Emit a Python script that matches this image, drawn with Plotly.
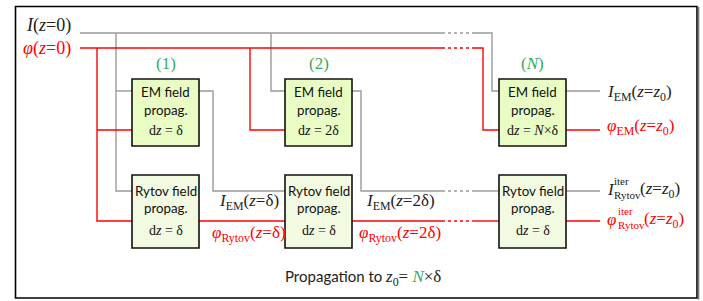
import plotly.graph_objects as go

# ---- data ----
stage_labels = ["(1)", "(2)", "(<i>N</i>)"]
em_steps = ["d<i>z</i> = δ", "d<i>z</i> = 2δ", "d<i>z</i> = <i>N</i>×δ"]
rytov_steps = ["d<i>z</i> = δ", "d<i>z</i> = δ", "d<i>z</i> = δ"]
box_x = [132, 285, 499]
box_w = 67
mid_I_labels = ["<i>I</i><sub>EM</sub>(<i>z</i>=δ)", "<i>I</i><sub>EM</sub>(<i>z</i>=2δ)"]
mid_phi_labels = ["<i>φ</i><sub>Rytov</sub>(<i>z</i>=δ)", "<i>φ</i><sub>Rytov</sub>(<i>z</i>=2δ)"]
mid_label_x = [249, 400]

GRAY = "#9a9a9a"
RED = "#ff0000"
GREEN = "#3aaa5c"
SERIF = "Liberation Serif"
SANS = "Lato"

EM_Y = (79, 146)
RY_Y = (175, 248)

fig = go.Figure()
shapes = []
ann = []

def poly(pts, color, dash="solid", w=1.4):
    d = "M " + " L ".join(f"{x},{y}" for x, y in pts)
    shapes.append(dict(type="path", path=d, line=dict(color=color, width=w, dash=dash),
                       xref="x", yref="y", layer="below"))

# outer frame
shapes.append(dict(type="rect", x0=15.5, y0=6.5, x1=697, y1=298, line=dict(color="#000", width=1.6),
                   xref="x", yref="y", layer="below"))
shapes.append(dict(type="line", x0=698.5, y0=7, x1=698.5, y1=299.5, line=dict(color="#777", width=1.6),
                   xref="x", yref="y", layer="below"))

# gray (intensity) lines
poly([(80, 33), (442, 33)], GRAY)
poly([(442, 33), (474, 33)], GRAY, "dot")
poly([(474, 33), (492, 33), (492, 91), (499, 91)], GRAY)
poly([(116, 33), (116, 191), (132, 191)], GRAY)
poly([(116, 91), (132, 91)], GRAY)
poly([(271, 33), (271, 91), (285, 91)], GRAY)
poly([(199, 91), (213, 91), (213, 191), (285, 191)], GRAY)
poly([(352, 91), (361, 91), (361, 191), (442, 191)], GRAY)
poly([(442, 191), (472, 191)], GRAY, "dot")
poly([(472, 191), (499, 191)], GRAY)
poly([(566, 91), (600, 91)], GRAY)
poly([(566, 191), (600, 191)], GRAY)

# red (phase) lines
poly([(80, 48), (442, 48)], RED)
poly([(442, 48), (474, 48)], RED, "dot")
poly([(474, 48), (483, 48), (483, 130), (499, 130)], RED)
poly([(97, 48), (97, 221), (132, 221)], RED)
poly([(97, 130), (132, 130)], RED)
poly([(250, 48), (250, 130), (285, 130)], RED)
poly([(199, 221), (285, 221)], RED)
poly([(352, 221), (442, 221)], RED)
poly([(442, 221), (472, 221)], RED, "dot")
poly([(472, 221), (499, 221)], RED)
poly([(566, 130), (600, 130)], RED)
poly([(566, 221), (600, 221)], RED)

# boxes
BOX_FS = 13.3
for i, x0 in enumerate(box_x):
    shapes.append(dict(type="rect", x0=x0, x1=x0 + box_w, y0=EM_Y[0], y1=EM_Y[1],
                       fillcolor="#e8fcc4", line=dict(color="#111", width=1.6),
                       xref="x", yref="y", layer="above"))
    shapes.append(dict(type="rect", x0=x0, x1=x0 + box_w, y0=RY_Y[0], y1=RY_Y[1],
                       fillcolor="#f3fae2", line=dict(color="#111", width=1.6),
                       xref="x", yref="y", layer="above"))
    cx = x0 + box_w / 2
    ann.append(dict(x=cx, y=92, text="EM field", font=dict(family=SANS, size=BOX_FS, color="#111")))
    ann.append(dict(x=cx, y=110, text="propag.", font=dict(family=SANS, size=BOX_FS, color="#111")))
    ann.append(dict(x=cx, y=130, text=em_steps[i], font=dict(family=SERIF, size=14, color="#111")))
    ann.append(dict(x=cx + 0.5, y=191, text="Rytov field", font=dict(family=SANS, size=BOX_FS, color="#111")))
    ann.append(dict(x=cx, y=208, text="propag.", font=dict(family=SANS, size=BOX_FS, color="#111")))
    ann.append(dict(x=cx, y=230, text=rytov_steps[i], font=dict(family=SERIF, size=14, color="#111")))
    ann.append(dict(x=cx, y=63, text=stage_labels[i], font=dict(family=SERIF, size=17, color=GREEN)))

# inputs
ann.append(dict(x=73, y=25, xanchor="right", text="<i>I</i>(<i>z</i>=0)",
                font=dict(family=SERIF, size=18, color="#222")))
ann.append(dict(x=73, y=48, xanchor="right", text="<i>φ</i>(<i>z</i>=0)",
                font=dict(family=SERIF, size=18, color=RED)))

# intermediate labels
for i in range(2):
    ann.append(dict(x=mid_label_x[i], y=202, text=mid_I_labels[i],
                    font=dict(family=SERIF, size=17, color="#222")))
    ann.append(dict(x=mid_label_x[i], y=234, text=mid_phi_labels[i],
                    font=dict(family=SERIF, size=17, color=RED)))

# outputs
ann.append(dict(x=605, y=93, xanchor="left", text="<i>I</i><sub>EM</sub>(<i>z</i>=<i>z</i><sub>0</sub>)",
                font=dict(family=SERIF, size=17, color="#222")))
ann.append(dict(x=605, y=127, xanchor="left", text="<i>φ</i><sub>EM</sub>(<i>z</i>=<i>z</i><sub>0</sub>)",
                font=dict(family=SERIF, size=17, color=RED)))
for yc, col, sym, sx in [(189, "#222", "<i>I</i>", 612), (219, RED, "<i>φ</i>", 616)]:
    ann.append(dict(x=605, y=yc, xanchor="left", text=sym, font=dict(family=SERIF, size=17, color=col)))
    ann.append(dict(x=sx, y=yc - 8, xanchor="left", text="iter", font=dict(family=SERIF, size=11, color=col)))
    ann.append(dict(x=sx, y=yc + 6, xanchor="left", text="Rytov", font=dict(family=SERIF, size=11, color=col)))
    ann.append(dict(x=sx + 26, y=yc + 1, xanchor="left", text="(<i>z</i>=<i>z</i><sub>0</sub>)",
                    font=dict(family=SERIF, size=17, color=col)))

# caption
ann.append(dict(x=384, y=276, xanchor="right", text="Propagation to",
                font=dict(family=SANS, size=15, color="#222")))
ann.append(dict(x=383, y=278, xanchor="left",
                text="<i>z</i><sub>0</sub>= <span style='color:" + GREEN + "'><i>N</i></span>×δ",
                font=dict(family=SERIF, size=17, color="#222")))

for a in ann:
    a.setdefault("xanchor", "center")
    a.setdefault("yanchor", "middle")
    a.update(xref="x", yref="y", showarrow=False)

fig.update_layout(
    width=703, height=301, margin=dict(l=0, r=0, t=0, b=0),
    paper_bgcolor="white", plot_bgcolor="white",
    xaxis=dict(range=[0, 703], visible=False, fixedrange=True),
    yaxis=dict(range=[301, 0], visible=False, fixedrange=True),
    shapes=shapes, annotations=ann, showlegend=False,
)
fig.write_html("out.html", config={"displayModeBar": False},
               post_script="document.body.style.margin='0';document.body.style.overflow='hidden';")
